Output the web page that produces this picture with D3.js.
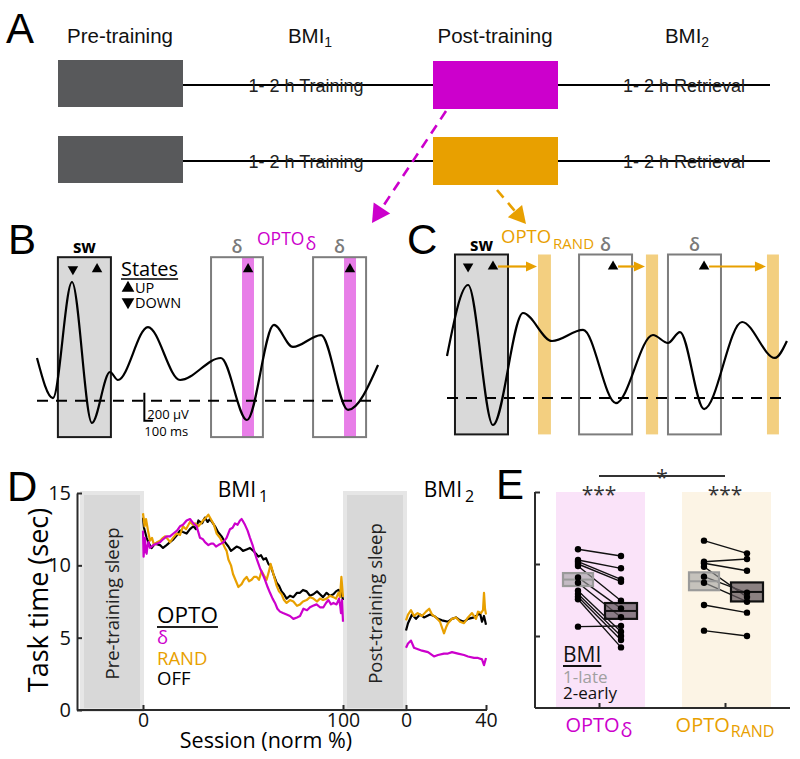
<!DOCTYPE html>
<html><head><meta charset="utf-8">
<script src="https://cdn.jsdelivr.net/npm/d3@7/dist/d3.min.js"></script>
<style>html,body{margin:0;padding:0;background:#fff}svg{display:block}</style>
</head><body>
<svg id="fig" width="800" height="759"></svg>
<script>
// ===================== DATA =====================
// Panel A – protocol
const stageNames = ["Pre-training", "BMI", "Post-training", "BMI"];
const stageSubs = ["", "1", "", "2"];
const phaseTexts = ["1- 2 h Training", "1- 2 h Retrieval"];
const groupNames = ["OPTO", "OPTO"];
const groupSubs = ["δ", "RAND"];
const groupColors = ["#cc00cc", "#e8a000"];

// Panel B – example trace (ms, µV), windows and stimulation
const waveB_t = [0, 84, 184, 289, 384, 426, 584, 753, 968, 1105, 1247, 1347, 1495, 1637, 1795];
const waveB_v = [305, 19, 848, -159, 205, 148, 526, 148, 305, -138, 541, 384, 469, -66, 255];
const swB = [110, 389];
const deltaWinB = [[916, 1189], [1453, 1732]];
const optoBarsB = [[1079, 1142], [1616, 1679]];
const statesB_t = [189, 316, 1111, 1647];
const statesB_dir = ["down", "up", "up", "up"];

// Panel C – example trace (ms, µV)
const waveC_t = [0, 111, 242, 400, 553, 716, 889, 1084, 1163, 1226, 1353, 1553, 1726, 1789];
const waveC_v = [300, 807, -193, 607, 407, 486, -36, 450, 393, 471, -79, 543, 286, 407];
const swC = [42, 321];
const deltaWinC = [[695, 974], [1163, 1442]];
const optoBarsC = [[479, 547], [1047, 1111], [1684, 1747]];
const statesC_t = [111, 242, 874, 1353];
const statesC_dir = ["down", "up", "up", "up"];
const windowRange = [-260, 1025];

// Panel D – task time (sec) vs session (norm %)
const offBMI1_x = [0,0.5,1.8,3,4.3,6,8.5,10,11.8,13.5,15.2,17,18.5,20,21.8,23.5,25.2,26.5,27.7,29.5,31,32.3,33.5,35,36,37.5,39.3,41,42.7,44,45,46.8,48.5,50,51.8,53.5,55.2,56.5,57.7,59,60.2,61.5,62.7,64,65.2,66.8,68,69.3,70.5,71.8,73.5,75.2,77,78.5,80,81.8,83.5,85.2,87,88.5,90,91.8,93.5,95.2,96.5,97.7,99.3,100];
const offBMI1_y = [13.3,12.6,11.9,11.5,11.2,11.5,11.4,11.2,11.4,11.6,11.8,12.1,12.4,12.3,12.2,12.5,12.7,12.5,13.1,12.9,13.3,13.0,13.2,12.9,12.7,12.3,12.0,11.6,11.3,11.0,11.1,11.3,11.2,11.0,11.1,11.2,11.0,10.8,10.6,10.7,10.4,10.5,10.1,9.9,9.4,8.8,8.6,8.2,8.0,7.7,7.9,7.8,8.1,8.1,8.3,8.2,7.9,8.0,8.2,8.0,7.8,8.1,7.9,8.0,8.2,8.3,8.1,7.6];
const randBMI1_x = [0,0.8,1.5,2.5,3.5,4.5,5.5,7,8.5,10,11,12.5,13.5,15,16.8,18.5,20,21.5,23.5,25,26,27.7,29,30,31.5,32.7,34.3,35.5,36.8,38.5,40,41,41.8,42.7,44,45,46.5,47.7,49.3,50.5,51.8,53,54.3,55.5,56.8,58,59.3,60.5,61.8,63,63.8,65,66.8,68,69.3,70.5,71.8,73.5,75.2,77,78.5,80,81.8,83.5,85.2,87,88.5,90,91.8,93.5,95.2,96.5,97.7,98.5,99.2,100];
const randBMI1_y = [13.6,12.7,13.2,12.4,11.7,11.9,11.4,11.6,11.7,11.9,12.0,11.8,11.6,11.9,12.2,12.1,12.7,12.5,13.0,12.8,12.9,12.7,12.9,13.1,13.3,13.5,13.1,12.8,12.2,11.9,11.5,11.2,11.0,10.4,10.0,9.4,8.9,8.5,8.7,9.0,9.2,8.9,9.0,9.2,9.2,9.0,9.6,9.3,9.0,9.6,10.1,9.5,8.6,8.2,8.0,7.6,7.4,7.6,7.5,7.2,7.3,7.5,7.6,7.8,7.7,7.5,7.7,7.6,7.7,7.9,7.8,7.7,8.1,7.8,9.2,7.8];
const deltaBMI1_x = [0,0.3,0.7,1,1.4,1.8,2.2,2.7,3.5,5.2,7,8.5,10,11.8,13.5,15.2,17,18.5,20,21.8,23.5,25.2,26.8,28.5,30,31,32.7,34,35.2,36.5,37.7,39,40.2,41.8,43.5,44.8,46,47.3,48.5,49.3,50.2,51,52.3,53.5,54.8,56,57.2,58.5,59.8,61,62.3,63.5,64.8,66,67.2,68.5,70,71.8,73.5,75.2,77,78.5,80.2,82,83.5,85,86.8,88.5,90.2,91.5,92.7,94,95.2,96.8,98,98.6,99,99.5,100];
const deltaBMI1_y = [12.4,10.6,11.4,11.9,11.0,10.8,11.3,11.6,11.2,11.4,11.5,11.6,11.8,12.0,12.0,12.2,12.4,12.7,12.8,13.1,13.2,12.9,12.7,11.9,11.8,11.6,11.4,11.5,11.5,11.3,11.4,11.5,11.6,11.9,12.5,12.6,12.9,12.8,13.1,13.2,13.0,12.8,12.4,11.9,11.4,10.8,10.3,9.8,9.4,9.0,8.5,8.1,7.7,7.4,7.0,6.8,6.7,6.6,6.5,6.3,6.4,6.5,7.0,6.9,7.1,7.2,7.3,7.1,7.1,7.4,7.6,7.3,7.4,7.3,7.7,7.2,6.7,7.6,6.1];
const offBMI2_x = [0,1,3,5,7,9,12,14,16,18,21,23,25,27,29,31,34,36,37,38,39,40];
const offBMI2_y = [5.5,6.0,6.6,6.3,6.6,6.4,6.6,6.5,6.3,6.2,6.1,6.3,6.4,6.2,6.1,6.3,6.4,6.6,6.7,6.1,6.5,5.9];
const randBMI2_x = [0,1,2.5,4,5.8,8,10,11.6,13,15,17,19,20,21,23,25,27,29,31,33,35,36,37.5,38.5,39,39.5,40];
const randBMI2_y = [6.2,6.6,6.9,6.5,6.7,6.5,6.8,7.0,6.6,6.4,6.1,5.3,5.7,6.0,6.3,6.4,6.1,6.0,6.4,6.7,6.3,6.8,6.7,6.9,8.1,7.0,6.6];
const deltaBMI2_x = [0,1,2.5,4,6,8,11,14,16,19,21,23,26,29,31,34,36,38,39,40];
const deltaBMI2_y = [4.3,4.6,4.8,4.3,4.2,4.1,4.0,3.7,3.8,3.9,3.9,4.0,3.9,3.8,3.7,3.6,3.6,3.5,3.1,3.6];
const yTicksD = [0, 5, 10, 15];
const xTicksBMI1 = [0, 100];
const xTicksBMI2 = [0, 40];
const sleepLabels = ["Pre-training sleep", "Post-training sleep"];
const sleepSpans = [[-30.5, -0.5], [101, 131]];   // in BMI1 session units
const legendD = ["δ", "RAND", "OFF"];
const legendDColors = ["#cc00cc", "#e8a000", "#000000"];

// Panel E – task time, BMI1-late vs BMI2-early
const deltaPre  = [11.02, 10.28, 10.16, 10.0, 9.86, 9.07, 8.70, 8.15, 7.92, 7.73, 7.55, 5.65];
const deltaPost = [10.56, 9.70, 8.93, 8.77, 7.45, 6.92, 6.30, 5.30, 5.00, 4.72, 4.21, 5.69];
const randPre   = [11.62, 10.16, 10.05, 9.81, 9.12, 8.70, 7.15, 5.37];
const randPost  = [10.74, 10.35, 9.53, 7.70, 8.00, 7.38, 6.62, 5.00];
const boxMid  = [[8.92, 6.74], [8.80, 8.06]];
const boxHalf = [[0.45, 0.55], [0.62, 0.66]];
const sigWithin = ["***", "***"];
const sigBetween = "*";
const legendE = ["1-late", "2-early"];

// ===================== DRAW =====================
const svg = d3.select("#fig");
const SANS = "'Open Sans', 'Noto Sans', sans-serif";
const ARIAL = "'Liberation Sans', Arial, sans-serif";
const MAG = groupColors[0], ORA = groupColors[1];
svg.append("rect").attr("width", 800).attr("height", 759).attr("fill", "#fff");

// panel letters
[["A", 6, 43], ["B", 8, 254], ["C", 407, 254], ["D", 7, 501], ["E", 496, 499]].forEach(([l, x, y]) =>
  svg.append("text").attr("x", x).attr("y", y).attr("font-family", ARIAL).attr("font-size", 42).text(l));

function subText(g, x, y, main, sub, opt) {
  const t = g.append("text").attr("x", x).attr("y", y).attr("font-family", opt.font)
    .attr("font-size", opt.size).attr("fill", opt.color || "#000").attr("text-anchor", opt.anchor || "middle");
  t.append("tspan").text(main);
  if (sub) t.append("tspan").attr("font-size", opt.subSize).attr("dy", opt.subDy).attr("dx", opt.subDx || 0).text(sub);
  return t;
}

// ---------- Panel A ----------
const gA = svg.append("g");
const stageX = [120, 310, 495, 687];
stageNames.forEach((n, i) => subText(gA, stageX[i], 43, n, stageSubs[i], {font: ARIAL, size: 20.5, subSize: 14, subDy: 4, color: "#111"}));
const rowY = [85, 161];
groupColors.forEach((c, i) => {
  const y = rowY[i];
  gA.append("line").attr("x1", 183).attr("x2", 770).attr("y1", y).attr("y2", y).attr("stroke", "#000").attr("stroke-width", 2.2);
  gA.append("rect").attr("x", 58).attr("y", y - 25).attr("width", 125).attr("height", 47).attr("fill", "#58595b");
  gA.append("rect").attr("x", 433).attr("y", y - 24).attr("width", 125).attr("height", 48).attr("fill", c);
  gA.append("text").attr("x", 306).attr("y", y + 6.5).attr("text-anchor", "middle").attr("font-family", ARIAL).attr("font-size", 18).attr("fill", "#222").text(phaseTexts[0]);
  gA.append("text").attr("x", 684).attr("y", y + 6.5).attr("text-anchor", "middle").attr("font-family", ARIAL).attr("font-size", 18).attr("fill", "#222").text(phaseTexts[1]);
});
function dashedArrow(g, x1, y1, x2, y2, color, head) {
  const dx = x2 - x1, dy = y2 - y1, L = Math.hypot(dx, dy), ux = dx / L, uy = dy / L;
  const bx = x2 - ux * head, by = y2 - uy * head;
  g.append("line").attr("x1", x1).attr("y1", y1).attr("x2", bx).attr("y2", by)
    .attr("stroke", color).attr("stroke-width", 2.6).attr("stroke-dasharray", "10,7");
  const w = head * 0.55;
  g.append("path").attr("d", `M${x2},${y2}L${bx - uy * w},${by + ux * w}L${bx + uy * w},${by - ux * w}Z`).attr("fill", color);
}
dashedArrow(gA, 446, 111, 372, 223, MAG, 18);
dashedArrow(gA, 497, 190, 526, 224, ORA, 17);

// ---------- Panels B and C ----------
function tri(g, x, y, dir, color, size) {
  g.append("path").attr("d", d3.symbol(d3.symbolTriangle, size || 48)())
    .attr("transform", `translate(${x},${y}) rotate(${dir === "down" ? 180 : 0})`).attr("fill", color || "#000");
}
function wavePanel(opt) {
  const g = svg.append("g");
  const x = d3.scaleLinear([0, 1800], opt.xr), y = d3.scaleLinear([0, 200], opt.yr);
  const top = y(windowRange[1]), bot = y(windowRange[0]);
  g.append("rect").attr("x", x(opt.sw[0])).attr("y", top).attr("width", x(opt.sw[1]) - x(opt.sw[0])).attr("height", bot - top)
    .attr("fill", "#d9d9d9").attr("stroke", "#1a1a1a").attr("stroke-width", 2);
  g.append("text").attr("x", (x(opt.sw[0]) + x(opt.sw[1])) / 2).attr("y", top - 4).attr("text-anchor", "middle")
    .attr("font-family", SANS).attr("font-weight", 700).attr("font-size", 17).text("sw");
  opt.bars.forEach(b => g.append("rect").attr("x", x(b[0])).attr("y", top).attr("width", x(b[1]) - x(b[0])).attr("height", bot - top).attr("fill", opt.barColor));
  opt.delta.forEach(d => {
    g.append("rect").attr("x", x(d[0])).attr("y", top).attr("width", x(d[1]) - x(d[0])).attr("height", bot - top)
      .attr("fill", "none").attr("stroke", "#7d7d7d").attr("stroke-width", 2);
    g.append("text").attr("x", (x(d[0]) + x(d[1])) / 2).attr("y", top - 4).attr("text-anchor", "middle")
      .attr("font-family", SANS).attr("font-weight", 600).attr("font-size", 18).attr("fill", "#7a7a7a").text("δ");
  });
  g.append("line").attr("x1", x(0)).attr("x2", x(1800)).attr("y1", y(0)).attr("y2", y(0))
    .attr("stroke", "#000").attr("stroke-width", 2).attr("stroke-dasharray", "11,8");
  const pts = opt.t.map((t, i) => [t, opt.v[i]]);
  g.append("path").attr("d", d3.line().x(d => x(d[0])).y(d => y(d[1])).curve(d3.curveMonotoneX)(pts))
    .attr("fill", "none").attr("stroke", "#000").attr("stroke-width", 2.2);
  opt.st.forEach((t, i) => tri(g, x(t), top + 12, opt.dir[i]));
  return {g, x, y, top, bot};
}
const B = wavePanel({xr: [37, 379], yr: [400.7, 372.7], sw: swB, bars: optoBarsB, barColor: "#e87ee8", delta: deltaWinB,
  t: waveB_t, v: waveB_v, st: statesB_t, dir: statesB_dir});
subText(B.g, 257, 245, groupNames[0], groupSubs[0], {font: SANS, size: 17.5, subSize: 18, subDy: 5, subDx: 1, color: MAG, anchor: "start"});
const stT = B.g.append("text").attr("x", 121).attr("y", 276).attr("font-family", SANS).attr("font-size", 20).text("States");
B.g.append("line").attr("x1", 121).attr("x2", 121 + stT.node().getComputedTextLength()).attr("y1", 279).attr("y2", 279).attr("stroke", "#000").attr("stroke-width", 1.6);
tri(B.g, 128, 288, "up", "#000", 70); tri(B.g, 128, 302, "down", "#000", 70);
B.g.append("text").attr("x", 135).attr("y", 293).attr("font-family", SANS).attr("font-size", 14.5).text("UP");
B.g.append("text").attr("x", 135).attr("y", 308).attr("font-family", SANS).attr("font-size", 14.5).text("DOWN");
const sb0 = B.x(565);
B.g.append("path").attr("d", `M${sb0},${B.y(0) - 8}V${B.y(0) - 8 + (B.y(0) - B.y(200))}H${sb0 + (B.x(100) - B.x(0)) * 0.45}`)
  .attr("fill", "none").attr("stroke", "#000").attr("stroke-width", 2);
B.g.append("text").attr("x", sb0 + 3).attr("y", 419).attr("font-family", SANS).attr("font-size", 13).text("200 μV");
B.g.append("text").attr("x", sb0).attr("y", 436).attr("font-family", SANS).attr("font-size", 13).text("100 ms");

const C = wavePanel({xr: [447, 789], yr: [398, 370], sw: swC, bars: optoBarsC, barColor: "#f3cf80", delta: deltaWinC,
  t: waveC_t, v: waveC_v, st: statesC_t, dir: statesC_dir});
subText(C.g, 501, 243, groupNames[1], groupSubs[1], {font: SANS, size: 18.5, subSize: 15, subDy: 6, subDx: 2, color: ORA, anchor: "start"});
statesC_t.forEach((t, i) => {
  if (statesC_dir[i] !== "up") return;
  const bar = optoBarsC.find(b => b[0] > t);
  const x1 = C.x(t) + 5, x2 = C.x(bar[0]) - 1, yy = C.top + 12;
  C.g.append("line").attr("x1", x1).attr("x2", x2 - 9).attr("y1", yy).attr("y2", yy).attr("stroke", ORA).attr("stroke-width", 2.2);
  C.g.append("path").attr("d", `M${x2},${yy}L${x2 - 11},${yy - 5}L${x2 - 11},${yy + 5}Z`).attr("fill", ORA);
});

// ---------- Panel D ----------
const gD = svg.append("g");
const xD1 = d3.scaleLinear([0, 100], [143, 343]);
const xD2 = d3.scaleLinear([0, 40], [406, 486]);
const yD = d3.scaleLinear([0, 15], [710, 493]);
sleepSpans.forEach((s, i) => {
  gD.append("rect").attr("x", xD1(s[0])).attr("y", yD(15)).attr("width", xD1(s[1]) - xD1(s[0])).attr("height", yD(0) - yD(15))
    .attr("fill", "#d8d8d8").attr("stroke", "#e6e6e6").attr("stroke-width", 4);
  const cx = (xD1(s[0]) + xD1(s[1])) / 2, cy = (yD(0) + yD(15)) / 2 + 2;
  gD.append("text").attr("transform", `translate(${cx + 7},${cy}) rotate(-90)`).attr("text-anchor", "middle")
    .attr("font-family", SANS).attr("font-size", 18.5).attr("fill", "#222").text(sleepLabels[i]);
});
const lineD = (xs) => d3.line().x(d => xs(d[0])).y(d => yD(d[1]));
const seriesD = [
  [offBMI1_x, offBMI1_y, xD1, "#000"], [randBMI1_x, randBMI1_y, xD1, ORA], [deltaBMI1_x, deltaBMI1_y, xD1, MAG],
  [offBMI2_x, offBMI2_y, xD2, "#000"], [randBMI2_x, randBMI2_y, xD2, ORA], [deltaBMI2_x, deltaBMI2_y, xD2, MAG]];
seriesD.forEach(([xs, ys, sc, col]) => {
  gD.append("path").attr("d", lineD(sc)(xs.map((x, i) => [x, ys[i]])))
    .attr("fill", "none").attr("stroke", col).attr("stroke-width", 2.2).attr("stroke-linejoin", "round");
});
function styleAxis(sel, size) {
  sel.selectAll("path,line").attr("stroke", "#2b2b2b").attr("stroke-width", 2);
  sel.selectAll("text").attr("font-family", SANS).attr("font-size", size).attr("fill", "#111");
}
const yAxD = gD.append("g").attr("transform", "translate(77,0)")
  .call(d3.axisLeft(yD).tickValues(yTicksD).tickSizeInner(-5).tickSizeOuter(0).tickPadding(6));
styleAxis(yAxD, 20);
gD.append("line").attr("x1", 77).attr("x2", 487).attr("y1", 710).attr("y2", 710).attr("stroke", "#2b2b2b").attr("stroke-width", 2);
[[xD1, xTicksBMI1], [xD2, xTicksBMI2]].forEach(([sc, tv]) => {
  const a = gD.append("g").attr("transform", "translate(0,710)")
    .call(d3.axisBottom(sc).tickValues(tv).tickSizeInner(-5).tickSizeOuter(0).tickPadding(3));
  a.select(".domain").remove();
  styleAxis(a, 19.5);
});
gD.append("text").attr("transform", "translate(48,600) rotate(-90)").attr("text-anchor", "middle")
  .attr("font-family", SANS).attr("font-size", 27).text("Task time (sec)");
gD.append("text").attr("x", 266).attr("y", 748).attr("text-anchor", "middle").attr("font-family", SANS).attr("font-size", 21.5).text("Session (norm %)");
subText(gD, 243, 497, stageNames[1], stageSubs[1], {font: SANS, size: 21, subSize: 16, subDy: 5, subDx: 3});
subText(gD, 449, 497, stageNames[3], stageSubs[3], {font: SANS, size: 21, subSize: 16, subDy: 5, subDx: 3});
const optoT = gD.append("text").attr("x", 157).attr("y", 623).attr("font-family", SANS).attr("font-size", 22.5).text(groupNames[0]);
gD.append("line").attr("x1", 157).attr("x2", 157 + optoT.node().getComputedTextLength()).attr("y1", 627).attr("y2", 627).attr("stroke", "#222").attr("stroke-width", 2);
legendD.forEach((l, i) => gD.append("text").attr("x", 157).attr("y", 644 + i * 20.5).attr("font-family", SANS)
  .attr("font-size", 18.5).attr("fill", legendDColors[i]).text(l));

// ---------- Panel E ----------
const gE = svg.append("g");
const yE = d3.scaleLinear([0, 15], [708, 492]);
const xE = d3.scaleLinear([0, 1], [599, 725]);
const bgE = ["#fae3f9", "#fcf4e5"];
[0, 1].forEach(i => gE.append("rect").attr("x", xE(i) - 43).attr("y", yE(15)).attr("width", 89).attr("height", yE(0) - yE(15)).attr("fill", bgE[i]));
const yAxE = gE.append("g").attr("transform", "translate(535,0)")
  .call(d3.axisLeft(yE).tickValues([5, 10, 15]).tickFormat("").tickSizeInner(-5).tickSizeOuter(0));
styleAxis(yAxE, 18);
yAxE.select(".domain").attr("d", `M0,${yE(15)}V${yE(0)}`);
gE.append("line").attr("x1", 535).attr("x2", 790).attr("y1", 708).attr("y2", 708).attr("stroke", "#2b2b2b").attr("stroke-width", 2);
const xAxE = gE.append("g").attr("transform", "translate(0,708)")
  .call(d3.axisBottom(xE).tickValues([0, 1]).tickFormat("").tickSizeInner(-5).tickSizeOuter(0));
xAxE.select(".domain").remove();
styleAxis(xAxE, 18);

const pairsE = [[deltaPre, deltaPost], [randPre, randPost]];
pairsE.forEach(([pre, post], gi) => {
  const xp = xE(gi) - 21, xq = xE(gi) + 22;
  pre.forEach((v, k) => gE.append("line").attr("x1", xp).attr("x2", xq).attr("y1", yE(v)).attr("y2", yE(post[k]))
    .attr("stroke", "#111").attr("stroke-width", 1.4));
  [[xp, 30, "rgba(160,160,160,0.6)", "#9a9a9a"], [xq, 32, "rgba(95,85,90,0.72)", "#111"]].forEach(([cx, w, f, s], j) => {
    const m = boxMid[gi][j], h = boxHalf[gi][j];
    gE.append("rect").attr("x", cx - w / 2).attr("y", yE(m + h)).attr("width", w).attr("height", yE(m - h) - yE(m + h))
      .attr("fill", f).attr("stroke", s).attr("stroke-width", 2.2);
    gE.append("line").attr("x1", cx - w / 2).attr("x2", cx + w / 2).attr("y1", yE(m)).attr("y2", yE(m)).attr("stroke", s).attr("stroke-width", 2);
  });
  pre.forEach(v => gE.append("circle").attr("cx", xp).attr("cy", yE(v)).attr("r", 3.2).attr("fill", "#000"));
  post.forEach(v => gE.append("circle").attr("cx", xq).attr("cy", yE(v)).attr("r", 3.2).attr("fill", "#000"));
  gE.append("text").attr("x", xE(gi)).attr("y", 502).attr("text-anchor", "middle").attr("font-family", SANS).attr("font-size", 21).attr("fill", "#333").text(sigWithin[gi]);
  subText(gE, xE(gi), 732, groupNames[gi], groupSubs[gi],
    {font: SANS, size: 20, subSize: gi ? 16 : 20, subDy: 5, subDx: 1, color: groupColors[gi]});
});
gE.append("line").attr("x1", xE(0)).attr("x2", xE(1)).attr("y1", 476).attr("y2", 476).attr("stroke", "#333").attr("stroke-width", 2);
gE.append("text").attr("x", (xE(0) + xE(1)) / 2).attr("y", 485).attr("text-anchor", "middle").attr("font-family", SANS).attr("font-size", 21).attr("fill", "#333").text(sigBetween);
const bmiT = gE.append("text").attr("x", 563).attr("y", 662).attr("font-family", SANS).attr("font-size", 21).attr("fill", "#111").text(stageNames[1]);
gE.append("line").attr("x1", 563).attr("x2", 563 + bmiT.node().getComputedTextLength()).attr("y1", 666).attr("y2", 666).attr("stroke", "#111").attr("stroke-width", 2);
gE.append("text").attr("x", 563).attr("y", 683).attr("font-family", SANS).attr("font-size", 17).attr("fill", "#a0a0a0").text(legendE[0]);
gE.append("text").attr("x", 563).attr("y", 699).attr("font-family", SANS).attr("font-size", 17).attr("fill", "#111").text(legendE[1]);
</script>
</body></html>
